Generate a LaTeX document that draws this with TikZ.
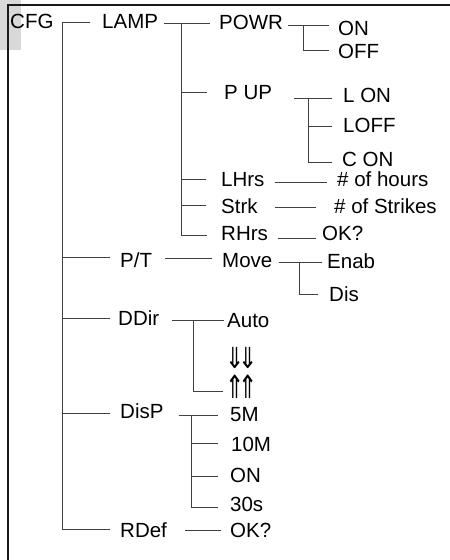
\documentclass[tikz,border=0pt]{standalone}
\usepackage{fontspec}
\setmainfont{Liberation Sans}
\newfontfamily\arrowfont{DejaVu Sans}
\begin{document}
\begin{tikzpicture}[x=1pt,y=-1pt,
  lbl/.style={font=\fontsize{20.5}{24}\selectfont, inner sep=0pt, text height=14pt, text depth=0pt, anchor=base west},
  arr/.style={font=\arrowfont\fontsize{20}{24}\selectfont, inner sep=0pt, anchor=base west},
  conn/.style={draw=black!75, line width=0.9pt},
  frame/.style={draw=black!90, line width=1.4pt}]
\useasboundingbox (0,0) rectangle (450,560);
\fill[gray!30] (0,0) rectangle (21,50);
\draw[frame] (450,5) -- (8,5) -- (8,560);
% labels
\node[lbl] (cfg) at (10,28) {CFG};
\node[lbl] (lamp) at (102,28) {LAMP};
\node[lbl] (powr) at (219,29) {POWR};
\node[lbl] (on1) at (338,35) {ON};
\node[lbl] (off1) at (338,58) {OFF};
\node[lbl] (pup) at (224,99) {P UP};
\node[lbl] (lon) at (343,102) {L ON};
\node[lbl] (loff) at (343,132) {LOFF};
\node[lbl] (con) at (342,166) {C ON};
\node[lbl] (lhrs) at (221,186) {LHrs};
\node[lbl] (hours) at (337,186) {\# of hours};
\node[lbl] (strk) at (221,213) {Strk};
\node[lbl] (strikes) at (334,213) {\# of Strikes};
\node[lbl] (rhrs) at (221,240) {RHrs};
\node[lbl] (ok1) at (322,240) {OK?};
\node[lbl] (pt) at (120,267) {P/T};
\node[lbl] (move) at (222,267) {Move};
\node[lbl] (enab) at (327,268) {Enab};
\node[lbl] (dis) at (329,301) {Dis};
\node[lbl] (ddir) at (118,325) {DDir};
\node[lbl] (auto) at (227,327) {Auto};
\node[arr] (dd) at (225,368) {\scalebox{1.15}[1.45]{⇓\kern-5pt⇓}};
\node[arr] (uu) at (225,398) {\scalebox{1.15}[1.6]{⇑\kern-5pt⇑}};
\node[lbl] (disp) at (120,418) {DisP};
\node[lbl] (m5) at (230,421) {5M};
\node[lbl] (m10) at (231,451) {10M};
\node[lbl] (on2) at (230,482) {ON};
\node[lbl] (s30) at (230,511) {30s};
\node[lbl] (rdef) at (120,537) {RDef};
\node[lbl] (ok2) at (230,537) {OK?};
% main trunk
\coordinate (aT) at (62,22);
\coordinate (aB) at (62,529);
\coordinate (aPT) at (62,257);
\coordinate (aDD) at (62,318);
\coordinate (aDP) at (62,413);
\draw[conn] ([xshift=-12]lamp.west |- aT) -- (aT) -- (aB) -- ([xshift=-10]rdef.west |- aB);
\draw[conn] (aPT) -- ([xshift=-10]pt.west |- aPT);
\draw[conn] (aDD) -- ([xshift=-8]ddir.west |- aDD);
\draw[conn] (aDP) -- ([xshift=-10]disp.west |- aDP);
% LAMP subtree
\coordinate (bT) at (181,23);
\coordinate (bB) at (181,235);
\coordinate (bPU) at (181,92);
\coordinate (bLH) at (181,179);
\coordinate (bST) at (181,205);
\draw[conn] ([xshift=6]lamp.east |- bT) -- ([xshift=-9]powr.west |- bT);
\draw[conn] (bT) -- (bB) -- ([xshift=-14]rhrs.west |- bB);
\draw[conn] (bPU) -- ([xshift=-17]pup.west |- bPU);
\draw[conn] (bLH) -- ([xshift=-15]lhrs.west |- bLH);
\draw[conn] (bST) -- ([xshift=-15]strk.west |- bST);
% POWR
\coordinate (cT) at (303,25);
\coordinate (cB) at (303,50);
\draw[conn] ([xshift=5]powr.east |- cT) -- ([xshift=-9]on1.west |- cT);
\draw[conn] (cT) -- (cB) -- ([xshift=-9]off1.west |- cB);
% P UP
\coordinate (dT) at (308,98);
\coordinate (dLF) at (308,126);
\coordinate (dB) at (308,162);
\draw[conn] ([xshift=22]pup.east |- dT) -- ([xshift=-11]lon.west |- dT);
\draw[conn] (dT) -- (dB) -- ([xshift=-10]con.west |- dB);
\draw[conn] (dLF) -- ([xshift=-11]loff.west |- dLF);
% single links
\coordinate (hLH) at (0,182);
\coordinate (hST) at (0,207);
\coordinate (hRH) at (0,238);
\coordinate (hPT) at (0,258);
\coordinate (hRD) at (0,530);
\draw[conn] ([xshift=10]lhrs.east |- hLH) -- ([xshift=-10]hours.west |- hLH);
\draw[conn] ([xshift=17]strk.east |- hST) -- ([xshift=-18]strikes.west |- hST);
\draw[conn] ([xshift=10]rhrs.east |- hRH) -- ([xshift=-6]ok1.west |- hRH);
\draw[conn] ([xshift=13]pt.east |- hPT) -- ([xshift=-10]move.west |- hPT);
\draw[conn] ([xshift=18]rdef.east |- hRD) -- ([xshift=-9]ok2.west |- hRD);
% Move
\coordinate (fT) at (299,262);
\coordinate (fB) at (299,294);
\draw[conn] ([xshift=6]move.east |- fT) -- ([xshift=-5]enab.west |- fT);
\draw[conn] (fT) -- (fB) -- ([xshift=-11]dis.west |- fB);
% DDir
\coordinate (gT) at (193,320);
\coordinate (gB) at (193,391);
\draw[conn] ([xshift=13]ddir.east |- gT) -- ([xshift=-3]auto.west |- gT);
\draw[conn] (gT) -- (gB) -- ([xshift=-2]uu.west |- gB);
% DisP
\coordinate (kT) at (191,415);
\coordinate (k10) at (191,443);
\coordinate (kON) at (191,476);
\coordinate (kB) at (191,507);
\draw[conn] ([xshift=15]disp.east |- kT) -- ([xshift=-12]m5.west |- kT);
\draw[conn] (kT) -- (kB) -- ([xshift=-12]s30.west |- kB);
\draw[conn] (k10) -- ([xshift=-13]m10.west |- k10);
\draw[conn] (kON) -- ([xshift=-12]on2.west |- kON);
\end{tikzpicture}
\end{document}
